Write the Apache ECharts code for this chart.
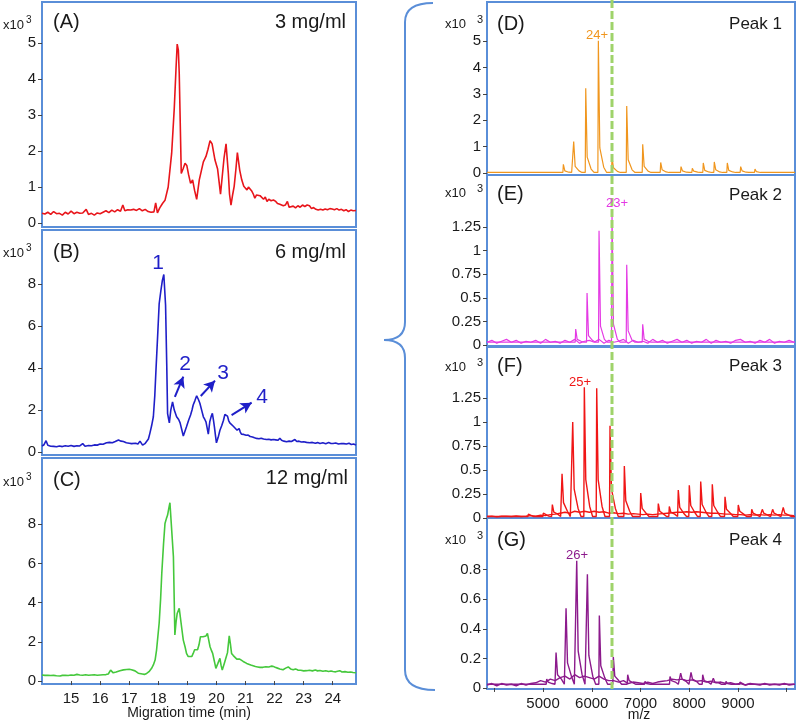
<!DOCTYPE html>
<html><head><meta charset="utf-8">
<script src="https://cdn.jsdelivr.net/npm/echarts@6/dist/echarts.min.js"></script>
<style>html,body{margin:0;padding:0;background:#fff}#c{width:800px;height:726px}</style>
</head><body><div id="c"></div>
<script>
// ---------- Electropherograms (time in min, intensity x10^3) ----------
const timeA = [14.00,14.10,14.20,14.30,14.40,14.50,14.60,14.70,14.80,14.90,15.00,15.10,15.20,15.30,15.40,15.52,15.60,15.70,15.80,15.90,16.00,16.10,16.20,16.30,16.40,16.50,16.60,16.70,16.78,16.85,16.95,17.05,17.15,17.25,17.35,17.45,17.55,17.65,17.75,17.85,17.91,17.97,18.05,18.15,18.23,18.34,18.46,18.55,18.61,18.65,18.69,18.72,18.79,18.85,18.92,18.98,19.04,19.11,19.18,19.25,19.32,19.41,19.48,19.55,19.64,19.71,19.78,19.85,19.95,20.04,20.09,20.14,20.20,20.26,20.33,20.41,20.45,20.50,20.56,20.61,20.67,20.72,20.80,20.87,20.94,21.00,21.05,21.10,21.16,21.22,21.27,21.32,21.38,21.44,21.50,21.56,21.62,21.68,21.74,21.80,21.88,21.96,22.04,22.10,22.18,22.24,22.30,22.37,22.44,22.50,22.56,22.64,22.72,22.80,22.88,22.96,23.04,23.12,23.20,23.27,23.34,23.42,23.50,23.58,23.66,23.74,23.82,23.90,23.98,24.06,24.14,24.22,24.30,24.38,24.46,24.54,24.62,24.70,24.80];
const valA  = [0.27,0.25,0.30,0.24,0.32,0.26,0.27,0.22,0.30,0.25,0.33,0.26,0.30,0.27,0.28,0.38,0.24,0.27,0.22,0.28,0.26,0.30,0.34,0.29,0.36,0.31,0.37,0.33,0.50,0.34,0.37,0.36,0.38,0.35,0.40,0.34,0.38,0.32,0.30,0.31,0.56,0.28,0.42,0.55,0.63,1.00,1.94,3.20,4.30,4.97,4.80,4.16,1.38,1.50,1.66,1.60,1.35,1.10,1.20,0.90,0.66,1.20,1.45,1.70,1.85,2.05,2.29,2.20,1.75,1.50,1.15,0.80,1.30,1.80,2.20,1.37,0.80,0.50,0.80,1.02,1.50,1.96,1.47,1.20,1.02,1.00,0.92,1.00,0.96,0.88,0.80,0.69,0.78,0.83,0.76,0.72,0.66,0.72,0.60,0.66,0.62,0.64,0.60,0.54,0.52,0.55,0.48,0.50,0.60,0.44,0.42,0.47,0.42,0.48,0.44,0.50,0.46,0.50,0.48,0.40,0.43,0.38,0.36,0.38,0.36,0.39,0.37,0.40,0.39,0.37,0.40,0.36,0.38,0.34,0.37,0.32,0.36,0.34,0.35];

const timeB = [14.00,14.07,14.14,14.20,14.30,14.40,14.50,14.60,14.70,14.80,14.90,15.00,15.10,15.20,15.30,15.40,15.48,15.60,15.70,15.80,15.90,16.00,16.10,16.22,16.32,16.42,16.52,16.63,16.72,16.80,16.90,17.00,17.08,17.14,17.22,17.30,17.37,17.46,17.54,17.60,17.66,17.71,17.77,17.83,17.88,17.92,17.98,18.03,18.09,18.14,18.19,18.22,18.25,18.29,18.32,18.35,18.38,18.43,18.49,18.55,18.63,18.70,18.75,18.81,18.86,18.92,18.97,19.04,19.11,19.16,19.20,19.26,19.32,19.38,19.43,19.50,19.55,19.60,19.64,19.68,19.72,19.77,19.82,19.86,19.90,19.93,19.97,20.00,20.06,20.12,20.18,20.24,20.29,20.34,20.38,20.42,20.46,20.52,20.58,20.64,20.71,20.75,20.78,20.82,20.86,20.94,21.02,21.09,21.16,21.24,21.31,21.38,21.46,21.54,21.62,21.72,21.80,21.88,21.96,22.04,22.12,22.18,22.24,22.32,22.41,22.50,22.58,22.64,22.70,22.76,22.84,22.92,23.00,23.10,23.20,23.30,23.40,23.48,23.56,23.66,23.76,23.86,23.94,24.01,24.10,24.20,24.30,24.38,24.47,24.56,24.64,24.72,24.80];
const valB  = [0.29,0.35,0.54,0.32,0.28,0.27,0.25,0.29,0.26,0.30,0.28,0.31,0.27,0.30,0.29,0.40,0.28,0.31,0.30,0.34,0.33,0.38,0.37,0.44,0.46,0.44,0.50,0.57,0.52,0.50,0.44,0.42,0.40,0.37,0.42,0.38,0.52,0.33,0.40,0.49,0.62,0.89,1.25,1.68,2.70,3.90,5.60,7.06,7.70,8.17,8.45,8.48,7.00,4.20,1.83,1.60,1.39,2.00,2.39,2.00,1.68,1.55,1.39,1.05,0.76,1.00,1.20,1.50,1.76,2.00,2.24,2.45,2.68,2.50,2.32,1.95,1.68,1.55,1.44,1.15,0.85,1.44,1.70,1.84,1.50,1.20,0.75,0.44,0.70,1.04,1.25,1.50,1.79,1.75,1.71,1.50,1.39,1.30,1.23,1.15,1.04,1.08,1.12,0.95,0.85,0.84,0.80,0.81,0.74,0.72,0.68,0.65,0.63,0.66,0.62,0.60,0.61,0.58,0.60,0.58,0.56,0.66,0.56,0.52,0.49,0.52,0.50,0.55,0.60,0.50,0.52,0.48,0.49,0.46,0.44,0.46,0.42,0.45,0.41,0.44,0.40,0.45,0.41,0.41,0.43,0.38,0.41,0.40,0.38,0.42,0.36,0.38,0.33];

const timeC = [14.00,14.10,14.20,14.30,14.40,14.50,14.62,14.70,14.80,14.90,15.00,15.10,15.20,15.30,15.40,15.50,15.60,15.70,15.80,15.90,16.00,16.10,16.20,16.28,16.36,16.45,16.55,16.68,16.80,16.91,17.00,17.08,17.14,17.20,17.26,17.31,17.37,17.45,17.52,17.60,17.68,17.77,17.83,17.89,17.94,18.03,18.08,18.12,18.18,18.23,18.28,18.32,18.36,18.40,18.44,18.46,18.52,18.57,18.61,18.65,18.72,18.80,18.86,18.92,18.97,19.03,19.09,19.15,19.20,19.25,19.29,19.35,19.40,19.45,19.50,19.54,19.60,19.64,19.69,19.74,19.78,19.83,19.87,19.93,19.98,20.05,20.12,20.16,20.20,20.27,20.33,20.38,20.44,20.48,20.52,20.58,20.64,20.70,20.75,20.80,20.86,20.92,20.98,21.04,21.10,21.18,21.26,21.34,21.42,21.50,21.60,21.70,21.80,21.88,21.95,22.02,22.10,22.18,22.29,22.38,22.47,22.55,22.64,22.72,22.80,22.90,23.00,23.10,23.20,23.30,23.40,23.48,23.56,23.66,23.76,23.86,23.94,24.01,24.10,24.24,24.32,24.42,24.52,24.62,24.70,24.80];
const valC  = [0.31,0.29,0.30,0.28,0.29,0.27,0.26,0.29,0.30,0.28,0.31,0.30,0.34,0.31,0.30,0.32,0.30,0.31,0.32,0.30,0.31,0.32,0.33,0.36,0.56,0.42,0.46,0.53,0.57,0.59,0.60,0.58,0.56,0.52,0.48,0.40,0.31,0.36,0.34,0.39,0.48,0.65,0.82,1.07,1.58,2.96,4.20,5.50,7.00,8.04,8.30,8.47,8.80,9.10,9.05,9.00,6.34,2.35,3.00,3.45,3.71,2.77,2.09,1.75,1.41,1.25,1.16,1.25,1.41,1.60,1.67,1.60,1.85,2.26,2.30,2.26,2.20,2.30,2.43,2.05,1.75,1.55,1.41,1.00,0.65,0.90,1.16,0.80,0.56,0.90,1.20,1.45,2.31,1.90,1.41,1.30,1.26,1.12,1.05,1.12,1.17,1.00,0.92,0.90,0.88,0.82,0.78,0.74,0.72,0.70,0.70,0.73,0.72,0.76,0.75,0.70,0.66,0.62,0.58,0.66,0.72,0.62,0.58,0.62,0.56,0.55,0.52,0.53,0.55,0.52,0.56,0.52,0.54,0.50,0.53,0.49,0.51,0.49,0.47,0.53,0.46,0.48,0.45,0.46,0.44,0.42];

// ---------- Mass spectra (m/z, intensity x10^3) ----------
// apex m/z, apex height, tail height just after apex, tail height further out
const dMz = [5417,5629,5876,6135,6415,6717,7045,7414,7831,8063,8288,8514,8781,9055,9349,9621,9999];
const dH  = [0.33,1.19,3.21,5.01,0.60,2.54,1.09,0.40,0.24,0.18,0.38,0.42,0.38,0.24,0.15,0.06,0.05];
const dT1 = [0.08,0.25,0.60,0.95,0.20,0.50,0.25,0.12,0.08,0.07,0.10,0.12,0.10,0.08,0.05,0.03,0.03];
const dT2 = [0.03,0.08,0.15,0.22,0.06,0.12,0.07,0.04,0.03,0.03,0.04,0.04,0.04,0.03,0.02,0.02,0.02];

const eMz = [5670,5903,6149,6415,6717,7045];
const eH  = [0.17,0.55,1.21,1.42,0.85,0.22];
const eT1 = [0.06,0.10,0.20,0.22,0.15,0.06];
const eT2 = [0.04,0.05,0.06,0.06,0.05,0.04];

const fMz = [4699,5006,5191,5390,5609,5847,6101,6374,6668,7004,7365,7591,7775,8001,8235,8473,8734,9006,9282,9499,9711,9929];
const fH  = [0.04,0.05,0.14,0.46,1.00,1.36,1.35,0.96,0.54,0.26,0.15,0.12,0.29,0.34,0.38,0.35,0.22,0.135,0.09,0.09,0.09,0.11];
const fT1 = [0.02,0.03,0.06,0.16,0.30,0.40,0.40,0.30,0.18,0.10,0.07,0.06,0.11,0.13,0.14,0.13,0.09,0.07,0.05,0.05,0.05,0.05];
const fT2 = [0.015,0.02,0.04,0.07,0.10,0.12,0.12,0.10,0.07,0.05,0.04,0.04,0.05,0.06,0.06,0.06,0.05,0.04,0.03,0.03,0.03,0.03];

const gMz = [5075,5267,5472,5691,5910,6155,6442,6737,7092,7605,7824,8036,8276,8494,8754,9041];
const gH  = [0.06,0.24,0.54,0.86,0.77,0.49,0.21,0.09,0.045,0.077,0.10,0.106,0.09,0.066,0.045,0.04];
const gT1 = [0.04,0.09,0.17,0.25,0.22,0.15,0.08,0.05,0.03,0.05,0.06,0.06,0.05,0.04,0.03,0.03];
const gT2 = [0.03,0.06,0.08,0.09,0.08,0.07,0.05,0.035,0.025,0.04,0.045,0.045,0.04,0.035,0.025,0.02];

// baseline noise read every 100 m/z from 3850
const noiseStart = 3850, noiseStep = 100;
const eNoise = [0.03,0.05,0.02,0.04,0.06,0.03,0.05,0.02,0.04,0.03,0.05,0.02,0.06,0.03,0.04,0.02,0.05,0.03,0.06,0.02,0.04,0.05,0.03,0.06,0.02,0.05,0.03,0.04,0.06,0.02,0.05,0.03,0.04,0.02,0.06,0.03,0.05,0.02,0.04,0.06,0.03,0.05,0.02,0.04,0.03,0.06,0.02,0.05,0.03,0.04,0.02,0.05,0.06,0.03,0.04,0.02,0.05,0.03,0.06,0.02,0.04,0.03,0.05,0.03];
const fNoise = [0.015,0.02,0.012,0.018,0.02,0.015,0.022,0.016,0.02,0.025,0.02,0.03,0.025,0.035,0.04,0.05,0.06,0.05,0.07,0.06,0.07,0.06,0.07,0.06,0.065,0.05,0.055,0.045,0.05,0.04,0.045,0.04,0.035,0.04,0.035,0.04,0.045,0.05,0.055,0.06,0.06,0.065,0.06,0.065,0.06,0.055,0.05,0.05,0.045,0.04,0.04,0.035,0.035,0.03,0.035,0.03,0.035,0.03,0.035,0.03,0.035,0.03,0.03,0.025];
const gNoise = [0.02,0.03,0.015,0.03,0.02,0.025,0.015,0.03,0.02,0.03,0.035,0.05,0.04,0.06,0.05,0.07,0.08,0.06,0.09,0.07,0.08,0.07,0.06,0.08,0.06,0.05,0.05,0.04,0.05,0.03,0.04,0.035,0.03,0.04,0.03,0.04,0.045,0.05,0.06,0.055,0.06,0.05,0.055,0.045,0.05,0.04,0.045,0.035,0.04,0.03,0.035,0.025,0.03,0.02,0.03,0.025,0.02,0.03,0.02,0.025,0.02,0.03,0.02,0.025];

const timeTicks = [15,16,17,18,19,20,21,22,23,24];
const mzTicks = [4000,5000,6000,7000,8000,9000,10000];
const mzLabels = [5000,6000,7000,8000,9000];
const refMz = 6415; // dashed reference line

// ---------- helpers ----------
const pairs = (xs, ys) => xs.map((x, i) => [x, ys[i]]);
function spectrum(mz, h, t1, t2, base) {
  const pts = [[3850, base]];
  mz.forEach((m, i) => {
    pts.push([m - 10, base], [m, h[i]], [m + 30, t1[i]], [m + 110, t2[i]], [m + 170, base]);
  });
  pts.push([10170, base]);
  pts.sort((a, b) => a[0] - b[0]);
  return pts;
}
const noise = vals => vals.map((v, i) => [noiseStart + i * noiseStep, v]);

const BORDER = '#5a8ed8';
const FONT = '"Liberation Sans", Arial, sans-serif';
const TXT = '#1a1a1a';

const grids = [
  {left: 42, top: 2, width: 314, height: 225},
  {left: 42, top: 230, width: 314, height: 225},
  {left: 42, top: 458, width: 314, height: 226},
  {left: 487, top: 2, width: 308, height: 173},
  {left: 487, top: 175, width: 308, height: 171},
  {left: 487, top: 347, width: 308, height: 171},
  {left: 487, top: 518, width: 308, height: 171}
].map(g => Object.assign({show: true, borderColor: BORDER, borderWidth: 2, backgroundColor: 'transparent', containLabel: false}, g));

function xAx(i, left, showLabels) {
  const base = {
    type: 'value', gridIndex: i, splitLine: {show: false},
    axisLine: {show: false}
  };
  if (left) {
    Object.assign(base, {min: 14, max: 24.8,
      axisTick: {show: showLabels, customValues: timeTicks, length: 4, lineStyle: {color: '#444'}},
      axisLabel: {show: showLabels, customValues: timeTicks, fontSize: 15, color: TXT, fontFamily: FONT, margin: 7,
        formatter: v => String(v)}});
  } else {
    Object.assign(base, {min: 3850, max: 10170,
      axisTick: {show: showLabels, customValues: mzTicks, length: 4, lineStyle: {color: '#444'}},
      axisLabel: {show: showLabels, customValues: mzLabels, fontSize: 15, color: TXT, fontFamily: FONT, margin: 7,
        formatter: v => String(v)}});
  }
  return base;
}
function yAx(i, min, max, ticks, fs) {
  return {
    type: 'value', gridIndex: i, min: min, max: max, splitLine: {show: false},
    axisLine: {show: true, lineStyle: {color: BORDER, width: 2}},
    axisTick: {show: true, customValues: ticks, length: 4, lineStyle: {color: '#444'}},
    axisLabel: {customValues: ticks, fontSize: fs, color: TXT, fontFamily: FONT, margin: 6, formatter: v => String(v)}
  };
}

const chart = echarts.init(document.getElementById('c'));

const arrowStyle = {color: '#1f1fc8', width: 2, type: 'solid'};
const option = {
  animation: false,
  grid: grids,
  xAxis: [xAx(0, true, false), xAx(1, true, false), xAx(2, true, true),
          xAx(3, false, false), xAx(4, false, false), xAx(5, false, false), xAx(6, false, true)],
  yAxis: [
    yAx(0, -0.11, 6.14, [0,1,2,3,4,5], 15),
    yAx(1, -0.14, 10.57, [0,2,4,6,8], 15),
    yAx(2, -0.15, 11.38, [0,2,4,6,8], 15),
    yAx(3, -0.076, 6.48, [0,1,2,3,4,5], 15),
    yAx(4, -0.01, 1.80, [0,0.25,0.5,0.75,1,1.25], 15),
    yAx(5, 0, 1.78, [0,0.25,0.5,0.75,1,1.25], 15),
    yAx(6, -0.007, 1.15, [0,0.2,0.4,0.6,0.8], 15)
  ],
  series: [
    {type: 'line', xAxisIndex: 0, yAxisIndex: 0, data: pairs(timeA, valA), showSymbol: false, lineStyle: {color: '#e8151b', width: 1.6}},
    {type: 'line', xAxisIndex: 1, yAxisIndex: 1, data: pairs(timeB, valB), showSymbol: false, lineStyle: {color: '#1f1fc8', width: 1.6},
      markLine: {silent: true, symbol: ['none', 'arrow'], symbolSize: [9, 11], label: {show: false}, lineStyle: arrowStyle,
        data: [
          [{coord: [18.57, 2.63]}, {coord: [18.86, 3.59]}],
          [{coord: [19.46, 2.67]}, {coord: [19.95, 3.40]}],
          [{coord: [20.52, 1.76]}, {coord: [21.21, 2.35]}]
        ]}},
    {type: 'line', xAxisIndex: 2, yAxisIndex: 2, data: pairs(timeC, valC), showSymbol: false, lineStyle: {color: '#45c83c', width: 1.6}},
    {type: 'line', xAxisIndex: 3, yAxisIndex: 3, data: spectrum(dMz, dH, dT1, dT2, 0.02), showSymbol: false, lineStyle: {color: '#f0961e', width: 1.2}},
    {type: 'line', xAxisIndex: 4, yAxisIndex: 4, data: noise(eNoise), showSymbol: false, lineStyle: {color: '#e43ae4', width: 1.2}},
    {type: 'line', xAxisIndex: 4, yAxisIndex: 4, data: spectrum(eMz, eH, eT1, eT2, 0.03), showSymbol: false, lineStyle: {color: '#e43ae4', width: 1.2}},
    {type: 'line', xAxisIndex: 5, yAxisIndex: 5, data: noise(fNoise), showSymbol: false, lineStyle: {color: '#f01616', width: 1.4}},
    {type: 'line', xAxisIndex: 5, yAxisIndex: 5, data: spectrum(fMz, fH, fT1, fT2, 0.015), showSymbol: false, lineStyle: {color: '#f01616', width: 1.4}},
    {type: 'line', xAxisIndex: 6, yAxisIndex: 6, data: noise(gNoise), showSymbol: false, lineStyle: {color: '#8c1a8c', width: 1.4}},
    {type: 'line', xAxisIndex: 6, yAxisIndex: 6, data: spectrum(gMz, gH, gT1, gT2, 0.025), showSymbol: false, lineStyle: {color: '#8c1a8c', width: 1.4}}
  ]
};
chart.setOption(option);

// ---------- annotations ----------
function txt(x, y, s, size, color, align) {
  return {type: 'text', x: x, y: y, z: 100, style: {text: s, fontSize: size, fill: color || TXT, fontFamily: FONT,
    align: align || 'left', verticalAlign: 'middle'}};
}
const g = [];
// x10^3 labels
[[3, 25], [3, 253], [3, 482]].forEach(p => { g.push(txt(p[0], p[1], 'x10', 13)); g.push(txt(p[0] + 23, p[1] - 5, '3', 10)); });
[[445, 24], [445, 193], [445, 367], [445, 540]].forEach(p => { g.push(txt(p[0], p[1], 'x10', 13)); g.push(txt(p[0] + 32, p[1] - 4, '3', 11)); });
// panel letters
[['(A)', 53, 22], ['(B)', 53, 252], ['(C)', 53, 480], ['(D)', 497, 24], ['(E)', 497, 194], ['(F)', 497, 366], ['(G)', 497, 540]]
  .forEach(p => g.push(txt(p[1], p[2], p[0], 20)));
// concentrations / peaks
[['3 mg/ml', 346, 22], ['6 mg/ml', 346, 252], ['12 mg/ml', 348, 478]].forEach(p => g.push(txt(p[1], p[2], p[0], 20, TXT, 'right')));
[['Peak 1', 782, 24], ['Peak 2', 782, 195], ['Peak 3', 782, 366], ['Peak 4', 782, 540]].forEach(p => g.push(txt(p[1], p[2], p[0], 17, TXT, 'right')));
// charge states
g.push(txt(597, 35, '24+', 13, '#f0961e', 'center'));
g.push(txt(617, 203, '23+', 13, '#e43ae4', 'center'));
g.push(txt(580, 382, '25+', 13, '#f01616', 'center'));
g.push(txt(577, 555, '26+', 13, '#8c1a8c', 'center'));
// peak numbers in B
[['1', 158, 263], ['2', 185, 364], ['3', 223, 373], ['4', 262, 397]].forEach(p => g.push(txt(p[1], p[2], p[0], 21, '#1f1fc8', 'center')));
// axis names
g.push(txt(189, 713, 'Migration time (min)', 14, TXT, 'center'));
g.push(txt(639, 715, 'm/z', 14, TXT, 'center'));
// curly brace
const braceStyle = {fill: 'none', stroke: BORDER, lineWidth: 2};
g.push({type: 'bezierCurve', z: 50, shape: {x1: 433, y1: 3, cpx1: 405, cpy1: 3, x2: 405, y2: 22}, style: braceStyle});
g.push({type: 'line', z: 50, shape: {x1: 405, y1: 22, x2: 405, y2: 322}, style: braceStyle});
g.push({type: 'bezierCurve', z: 50, shape: {x1: 405, y1: 322, cpx1: 405, cpy1: 340, x2: 384, y2: 340}, style: braceStyle});
g.push({type: 'bezierCurve', z: 50, shape: {x1: 384, y1: 340, cpx1: 405, cpy1: 340, x2: 405, y2: 358}, style: braceStyle});
g.push({type: 'line', z: 50, shape: {x1: 405, y1: 358, x2: 405, y2: 670}, style: braceStyle});
g.push({type: 'bezierCurve', z: 50, shape: {x1: 405, y1: 670, cpx1: 405, cpy1: 690, x2: 435, y2: 690}, style: braceStyle});
// dashed reference line across the spectra
const xr = chart.convertToPixel({xAxisIndex: 3}, refMz);
g.push({type: 'line', z: 60, shape: {x1: xr, y1: 0, x2: xr, y2: 689}, style: {stroke: '#9fd36a', lineWidth: 3, lineDash: [8, 3]}});

chart.setOption({graphic: g});
</script>
</body></html>
